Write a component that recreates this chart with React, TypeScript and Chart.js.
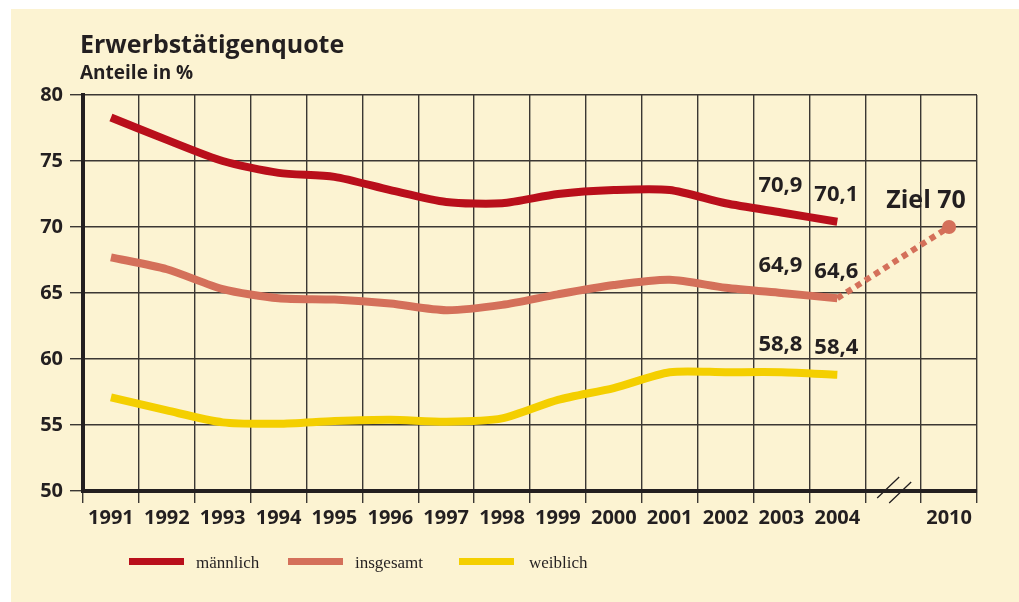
import React, { useEffect, useRef } from 'react';
import { Chart, registerables } from 'chart.js';

Chart.register(...registerables);

// ---------- data ----------
const categories = ['1991', '1992', '1993', '1994', '1995', '1996', '1997', '1998', '1999', '2000', '2001', '2002', '2003', '2004', '', '2010'];
const maennlich = [78.3, 76.6, 75.0, 74.1, 73.8, 72.8, 71.9, 71.8, 72.5, 72.8, 72.8, 71.8, 71.1, 70.4];
const insgesamt = [67.7, 66.8, 65.3, 64.6, 64.5, 64.2, 63.7, 64.1, 64.9, 65.6, 66.0, 65.4, 65.0, 64.6];
const weiblich = [57.1, 56.1, 55.2, 55.1, 55.3, 55.4, 55.25, 55.5, 56.9, 57.8, 59.0, 59.0, 59.0, 58.8];
const zielStart = 64.6; // 2004
const zielWert = 70; // 2010
const labelsMaennlich = ['70,9', '70,1'];
const labelsInsgesamt = ['64,9', '64,6'];
const labelsWeiblich = ['58,8', '58,4'];
const zielLabel = 'Ziel 70';
const yTicks = { min: 50, max: 80, step: 5 };
const seriesNames = ['männlich', 'insgesamt', 'weiblich'];

// ---------- styles ----------
const BG = '#FCF3D2';
const TEXT = '#231F20';
const GRID = '#3b3733';
const RED = '#B90F1B';
const SALMON = '#D4705A';
const YELLOW = '#F4CF00';
const SANS = '"Open Sans", "Noto Sans", sans-serif';

const padTo = (arr: (number | null)[], n: number) => {
  const out: (number | null)[] = [...arr];
  while (out.length < n) out.push(null);
  return out;
};

const annotPlugin = {
  id: 'annot',
  afterDatasetsDraw(chart: any) {
    const ctx = chart.ctx;
    ctx.save();
    ctx.fillStyle = TEXT;
    ctx.textAlign = 'center';
    ctx.textBaseline = 'middle';
    ctx.font = `bold 22px ${SANS}`;
    const groups = [labelsMaennlich, labelsInsgesamt, labelsWeiblich];
    groups.forEach((labs, di) => {
      const meta = chart.getDatasetMeta(di);
      [12, 13].forEach((idx, k) => {
        const pt = meta.data[idx];
        ctx.fillText(labs[k], pt.x - 1, pt.y - 27);
      });
    });
    const zmeta = chart.getDatasetMeta(3);
    const zp = zmeta.data[15];
    ctx.font = `bold 25px ${SANS}`;
    ctx.fillText(zielLabel, zp.x - 23, zp.y - 26);
    ctx.restore();
  },
  afterDraw(chart: any) {
    const ctx = chart.ctx;
    const xs = chart.scales.x;
    const cx = xs.getPixelForValue(14);
    const cy = chart.chartArea.bottom;
    ctx.save();
    ctx.strokeStyle = TEXT;
    ctx.lineWidth = 1.3;
    ctx.beginPath();
    ctx.moveTo(cx - 16, cy + 7);
    ctx.lineTo(cx + 6, cy - 14);
    ctx.moveTo(cx - 4, cy + 12);
    ctx.lineTo(cx + 18, cy - 9);
    ctx.stroke();
    ctx.restore();
  },
};

export default function App() {
  const ref = useRef<HTMLCanvasElement>(null);

  useEffect(() => {
    const n = categories.length;
    const zielData: (number | null)[] = new Array(n).fill(null);
    zielData[13] = zielStart;
    zielData[15] = zielWert;
    const zielRadius = zielData.map((_, i) => (i === 15 ? 7 : 0));
    const lineCommon = {
      borderWidth: 8,
      pointRadius: 0,
      tension: 0.25,
      borderCapStyle: 'butt' as const,
      borderJoinStyle: 'round' as const,
      fill: false,
    };
    const chart = new Chart(ref.current!, {
      type: 'line',
      data: {
        labels: categories,
        datasets: [
          { label: seriesNames[0], data: padTo(maennlich, n), borderColor: RED, ...lineCommon },
          { label: seriesNames[1], data: padTo(insgesamt, n), borderColor: SALMON, ...lineCommon },
          { label: seriesNames[2], data: padTo(weiblich, n), borderColor: YELLOW, ...lineCommon },
          {
            label: 'Ziel',
            data: zielData,
            borderColor: SALMON,
            borderWidth: 6,
            borderDash: [6, 5],
            borderCapStyle: 'butt',
            spanGaps: true,
            tension: 0,
            pointRadius: zielRadius,
            pointBackgroundColor: SALMON,
            pointBorderWidth: 0,
            fill: false,
          },
        ],
      },
      options: {
        responsive: false,
        animation: false,
        layout: { padding: { left: 0, top: 86, right: 42, bottom: 0 } },
        plugins: {
          legend: { display: false },
          tooltip: { enabled: false },
          title: { display: false },
        },
        scales: {
          x: {
            offset: true,
            grid: { offset: true, color: GRID, lineWidth: 1.4, tickLength: 12 },
            border: { display: true, color: TEXT, width: 4 },
            ticks: {
              color: TEXT,
              font: { family: SANS, weight: 'bold', size: 20 },
              padding: 3,
              maxRotation: 0,
              autoSkip: false,
            },
            afterFit: (s: any) => {
              s.height = 111;
            },
          },
          y: {
            min: yTicks.min,
            max: yTicks.max,
            grid: { color: GRID, lineWidth: 1.4, tickLength: 13 },
            border: { display: true, color: TEXT, width: 4 },
            ticks: {
              stepSize: yTicks.step,
              color: TEXT,
              font: { family: SANS, weight: 'bold', size: 20 },
              padding: 7,
            },
            afterFit: (s: any) => {
              s.width = 72;
            },
          },
        },
      },
      plugins: [annotPlugin],
    } as any);
    return () => chart.destroy();
  }, []);

  const legendItems = [
    { name: seriesNames[0], color: RED, barX: 129, textX: 196 },
    { name: seriesNames[1], color: SALMON, barX: 288, textX: 355 },
    { name: seriesNames[2], color: YELLOW, barX: 459, textX: 529 },
  ];

  return (
    <div style={{ position: 'absolute', left: 0, top: 0, width: 1019, height: 602, background: '#ffffff', overflow: 'hidden' }}>
      <div style={{ position: 'absolute', left: 11, top: 9, width: 1008, height: 593, background: BG }}>
        <canvas ref={ref} width={1008} height={593} style={{ display: 'block' }} />
      </div>
      <div
        style={{
          position: 'absolute',
          left: 80,
          top: 31,
          fontFamily: SANS,
          fontWeight: 700,
          fontSize: 25,
          lineHeight: '25px',
          color: TEXT,
          whiteSpace: 'nowrap',
        }}
      >
        Erwerbstätigenquote
      </div>
      <div
        style={{
          position: 'absolute',
          left: 80,
          top: 63,
          fontFamily: SANS,
          fontWeight: 700,
          fontSize: 19,
          lineHeight: '19px',
          color: TEXT,
          whiteSpace: 'nowrap',
        }}
      >
        Anteile in %
      </div>
      {legendItems.map((it) => (
        <React.Fragment key={it.name}>
          <div style={{ position: 'absolute', left: it.barX, top: 558, width: 55, height: 7, background: it.color }} />
          <div
            style={{
              position: 'absolute',
              left: it.textX,
              top: 554,
              fontFamily: '"Liberation Serif", "DejaVu Serif", serif',
              fontSize: 17,
              lineHeight: '17px',
              color: TEXT,
              whiteSpace: 'nowrap',
            }}
          >
            {it.name}
          </div>
        </React.Fragment>
      ))}
    </div>
  );
}
